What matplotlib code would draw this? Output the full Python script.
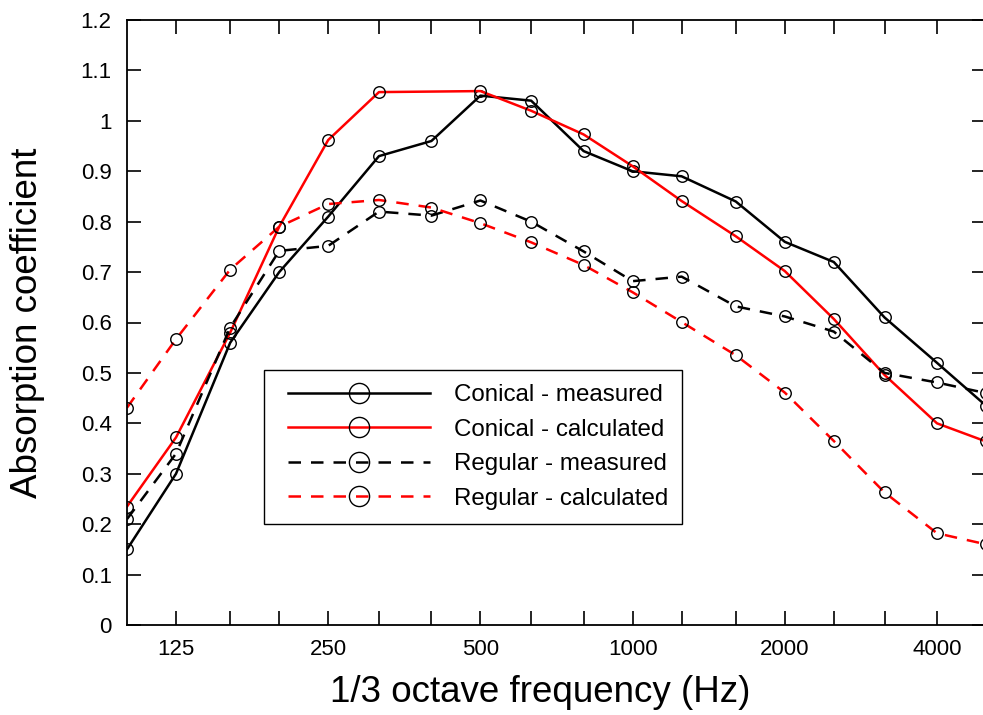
import matplotlib
matplotlib.use("Agg")
import matplotlib.pyplot as plt
from matplotlib.legend_handler import HandlerLine2D
from matplotlib.ticker import FixedLocator, FixedFormatter, NullLocator


# 1/3 octave band centre frequencies (Hz)
freqs = [100, 125, 160, 200, 250, 315, 400, 500, 630, 800, 1000,
         1250, 1600, 2000, 2500, 3150, 4000, 5000]

conical_measured = [0.15, 0.30, 0.56, 0.70, 0.81, 0.93, 0.96, 1.05, 1.04,
                    0.94, 0.90, 0.89, 0.84, 0.76, 0.72, 0.61, 0.52, 0.435]

# the calculated conical curve has no point at 400 Hz
conical_calc_freqs = [100, 125, 160, 200, 250, 315, 500, 630, 800, 1000,
                      1250, 1600, 2000, 2500, 3150, 4000, 5000]
conical_calculated = [0.235, 0.372, 0.58, 0.79, 0.962, 1.057, 1.059, 1.02,
                      0.973, 0.91, 0.841, 0.771, 0.702, 0.607, 0.496, 0.40,
                      0.364]

regular_measured = [0.21, 0.34, 0.59, 0.742, 0.752, 0.82, 0.812, 0.842, 0.80,
                    0.741, 0.682, 0.691, 0.632, 0.612, 0.582, 0.50, 0.481,
                    0.46]

regular_calculated = [0.431, 0.567, 0.705, 0.79, 0.835, 0.843, 0.828, 0.797,
                      0.759, 0.714, 0.66, 0.601, 0.535, 0.461, 0.365, 0.263,
                      0.182, 0.16]

tick_freqs = [125, 160, 200, 250, 315, 400, 500, 630, 800, 1000, 1250,
              1600, 2000, 2500, 3150, 4000]
labelled_freqs = [125, 250, 500, 1000, 2000, 4000]
y_ticks = [0.0, 0.1, 0.2, 0.3, 0.4, 0.5, 0.6, 0.7, 0.8, 0.9, 1.0, 1.1, 1.2]
y_tick_labels = ["0", "0.1", "0.2", "0.3", "0.4", "0.5", "0.6", "0.7",
                 "0.8", "0.9", "1", "1.1", "1.2"]


plt.rcParams["font.family"] = ["Liberation Sans", "DejaVu Sans"]

fig = plt.figure(figsize=(9.83, 7.15), dpi=100)
ax = fig.add_axes([127 / 983, 90 / 715, 859 / 983, 605 / 715])

line_kw = dict(lw=1.8, marker="o", ms=8.3, mfc="none", mec="black", mew=1.0)

lines = []
lines += ax.plot(freqs, conical_measured, color="black", ls="-",
                 label="Conical - measured", **line_kw)
lines += ax.plot(conical_calc_freqs, conical_calculated, color="red", ls="-",
                 label="Conical - calculated", **line_kw)
lines += ax.plot(freqs, regular_measured, color="black", dashes=(5, 4),
                 label="Regular - measured", **line_kw)
lines += ax.plot(freqs, regular_calculated, color="red", dashes=(5, 4),
                 label="Regular - calculated", **line_kw)

ax.set_xscale("log")
ax.set_xlim(100, 5000)
ax.set_ylim(0, 1.2)

ax.xaxis.set_major_locator(FixedLocator(tick_freqs))
ax.xaxis.set_major_formatter(FixedFormatter(
    [str(f) if f in labelled_freqs else "" for f in tick_freqs]))
ax.xaxis.set_minor_locator(NullLocator())
ax.yaxis.set_major_locator(FixedLocator(y_ticks))
ax.yaxis.set_major_formatter(FixedFormatter(y_tick_labels))

ax.tick_params(axis="both", direction="in", length=10, width=1.2,
               top=True, right=True)
ax.tick_params(axis="y", labelsize=16, pad=11)
ax.tick_params(axis="x", labelsize=16, pad=10)

for spine in ax.spines.values():
    spine.set_linewidth(1.3)

ax.set_xlabel("1/3 octave frequency (Hz)", fontsize=26.5)
ax.xaxis.set_label_coords((540 - 127) / 859, -0.083)
ax.set_ylabel("Absorption coefficient", fontsize=26.5)
ax.yaxis.set_label_coords(-0.096, 0.5)

# extra padding on the left of each legend handle
handler_map = {ln: HandlerLine2D(xpad=0.45) for ln in lines}

leg = ax.legend(handles=lines, handler_map=handler_map,
                loc="lower left", bbox_to_anchor=(0.159, 0.167),
                fontsize=17.4, markerscale=1.75, handlelength=6.3,
                handletextpad=1.0, labelspacing=0.52, borderpad=0.58,
                borderaxespad=0, fancybox=False, framealpha=1,
                edgecolor="black")
leg.get_frame().set_linewidth(1.0)

fig.savefig("out.png", dpi=100)
